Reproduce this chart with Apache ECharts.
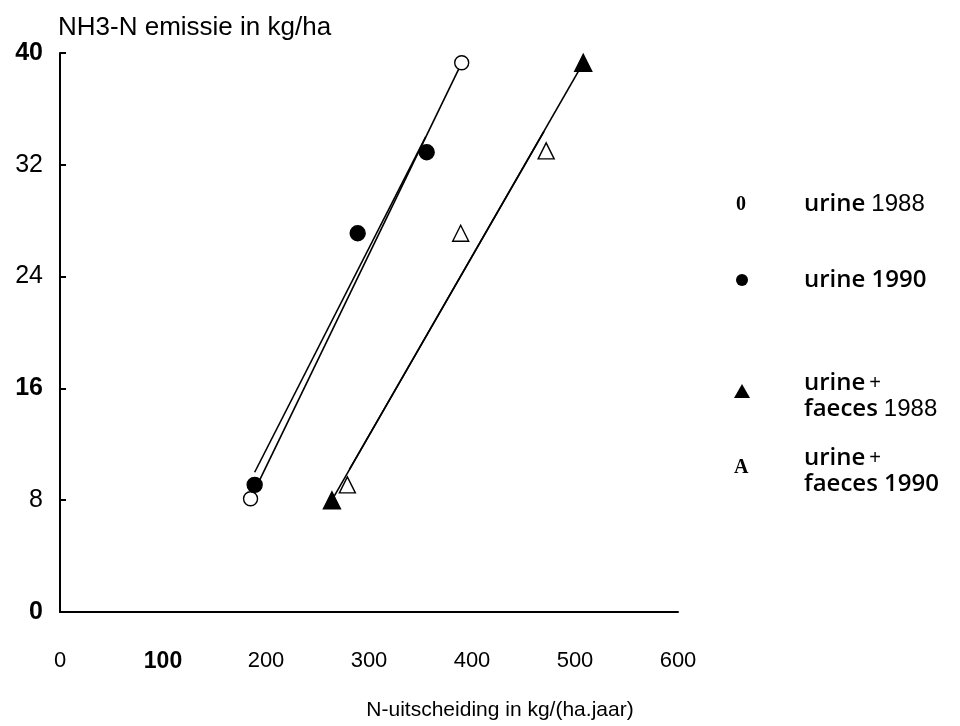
<!DOCTYPE html>
<html>
<head>
<meta charset="utf-8">
<script src="https://cdn.jsdelivr.net/npm/echarts@6/dist/echarts.min.js"></script>
<style>html,body{margin:0;padding:0;background:#fff}#c{width:960px;height:726px}</style>
</head>
<body>
<div id="c"></div>
<script>
// Data (x: N-uitscheiding kg/(ha.jaar), y: NH3-N emissie kg/ha)
var urine1988 = [[185, 8.1], [390, 39.3]];
var urine1990 = [[189, 9.1], [289, 27.1], [356, 32.9]];
var uf1988 = [[264, 8.0], [508, 39.3]];
var uf1990 = [[279, 9.1], [389, 27.1], [472, 33.0]];
// fitted lines (end points)
var lineUrine1988 = [[185, 8.1], [390, 39.3]];
var lineUrine1990 = [[189, 10.0], [355, 34.0]];
var lineUF1988 = [[264, 8.0], [508, 39.3]];
var lineUF1990 = [[281, 10.2], [470, 34.4]];
var xTicks = [0, 100, 200, 300, 400, 500, 600];
var yTicks = [0, 8, 16, 24, 32, 40];
var boldY = [0, 16, 40];
var boldX = [100];

var chart = echarts.init(document.getElementById('c'));
function lineSeries(d) {
  return {type: 'line', data: d, symbol: 'none', silent: true,
    lineStyle: {color: '#000', width: 1.6}, z: 1};
}
function scatter(d, sym, size, fill) {
  return {type: 'scatter', data: d, symbol: sym, symbolSize: size, z: 3,
    itemStyle: {color: fill, borderColor: '#000', borderWidth: 1.4, opacity: 1}};
}
var SANS = 'Liberation Sans, Arial';
var legRich = {
  a: {font: '600 24px "Open Sans"', fill: '#000', verticalAlign: 'bottom'},
  n: {font: '24px "Liberation Sans"', fill: '#000', verticalAlign: 'bottom', padding: [0, 0, 0, 6]},
  p: {font: '20px "Liberation Sans"', fill: '#000', verticalAlign: 'bottom', padding: [0, 0, 2, 4]}
};
function legText(x, y, t) {
  return {type: 'text', left: x, top: y, style: {text: t, rich: legRich}};
}
var option = {
  animation: false,
  backgroundColor: '#fff',
  grid: {left: 60, right: 282, top: 53, bottom: 108, containLabel: false},
  xAxis: {
    type: 'value', min: 0, max: 600, interval: 100,
    splitLine: {show: false},
    axisLine: {show: true, onZero: false, lineStyle: {color: '#000', width: 2}},
    axisTick: {show: false},
    axisLabel: {
      margin: 38, color: '#000', fontFamily: SANS, fontSize: 22,
      formatter: function (v) { return boldX.indexOf(v) >= 0 ? '{b|' + v + '}' : '' + v; },
      rich: {b: {fontWeight: 'bold', fontSize: 23, fontFamily: SANS, color: '#000'}}
    },
    name: 'N-uitscheiding in kg/(ha.jaar)', nameLocation: 'middle', nameGap: 88,
    nameTextStyle: {color: '#000', fontFamily: SANS, fontSize: 21, padding: [0, 0, 0, 262]}
  },
  yAxis: {
    type: 'value', min: 0, max: 40, interval: 8,
    splitLine: {show: false},
    axisLine: {show: true, onZero: false, lineStyle: {color: '#000', width: 2}},
    axisTick: {show: true, inside: true, length: 6, lineStyle: {color: '#000', width: 2}},
    axisLabel: {
      margin: 17, color: '#000', fontFamily: SANS, fontSize: 25,
      formatter: function (v) { return boldY.indexOf(v) >= 0 ? '{b|' + v + '}' : '' + v; },
      rich: {b: {fontWeight: 'bold', fontSize: 25, fontFamily: SANS, color: '#000'}}
    },
    name: 'NH3-N emissie in kg/ha', nameLocation: 'end', nameGap: 12,
    nameTextStyle: {color: '#000', fontFamily: SANS, fontSize: 26, align: 'left', padding: [0, 0, 0, -2]}
  },
  series: [
    lineSeries(lineUrine1988), lineSeries(lineUrine1990),
    lineSeries(lineUF1988), lineSeries(lineUF1990),
    scatter(urine1988, 'circle', 14, '#fff'),
    scatter(urine1990, 'circle', 15, '#000'),
    scatter(uf1988, 'triangle', 17, '#000'),
    scatter(uf1990, 'triangle', 16, '#fff')
  ],
  graphic: [
    {type: 'text', left: 736, top: 195, style: {text: '0', font: 'bold 20px "Liberation Serif", serif', fill: '#000'}},
    {type: 'circle', shape: {cx: 742, cy: 280, r: 6}, style: {fill: '#000'}},
    {type: 'polygon', shape: {points: [[742, 384], [750, 398], [734, 398]]}, style: {fill: '#000'}},
    {type: 'text', left: 734, top: 458, style: {text: 'A', font: 'bold 20px "Liberation Serif", serif', fill: '#000'}},
    legText(804, 192, '{a|urine}{n|1988}'),
    legText(804, 268, '{a|urine 1990}'),
    legText(804, 371, '{a|urine}{p|+}'),
    legText(804, 397, '{a|faeces}{n|1988}'),
    legText(804, 446, '{a|urine}{p|+}'),
    legText(804, 472, '{a|faeces 1990}')
  ]
};
chart.setOption(option);
</script>
</body>
</html>
